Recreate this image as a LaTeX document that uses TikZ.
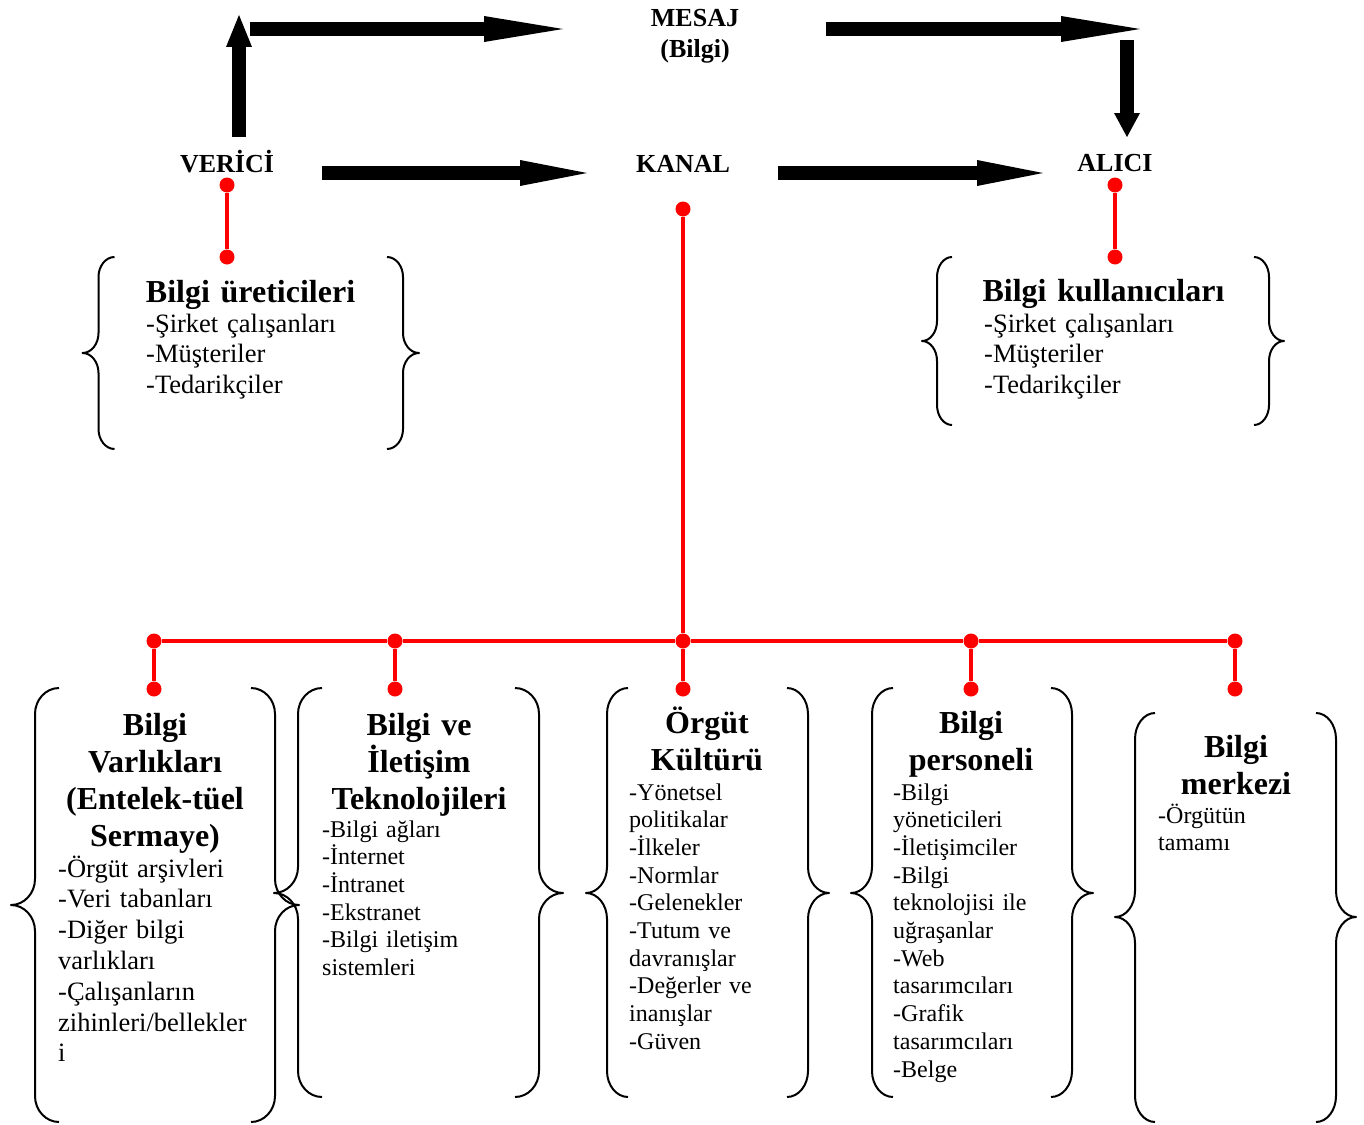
\documentclass[tikz,border=0pt]{standalone}
\usepackage{fontspec}
\setmainfont{Liberation Serif}
\usepackage{tikz}
\usetikzlibrary{arrows.meta,positioning}
\definecolor{KanalRed}{HTML}{FF0000}

\begin{document}
\begin{tikzpicture}[x=1pt,y=-1pt,
  lbl/.style={font=\fontsize{26}{31}\selectfont\bfseries,inner sep=0pt,anchor=base,align=center,text width=200pt},
  hdr/.style={font=\fontsize{32}{37}\selectfont\bfseries,inner sep=0pt,anchor=base,align=center,text width=280pt},
  items/.style={font=\fontsize{24}{27.7}\selectfont,inner sep=0pt,anchor=base west,align=left,text width=300pt},
  bigitems/.style={items,font=\fontsize{26.5}{30.8}\selectfont},
  reddot/.style={circle,fill=KanalRed,inner sep=0pt,minimum size=15pt},
  link/.style={KanalRed,line width=4pt},
  blockarrow/.style={line width=14pt,-{Triangle[length=#1,width=26pt,line width=0pt]}},
  bracket/.style={line width=2pt,line join=round}]
  \useasboundingbox (0,0) rectangle (1364,1124);
  % iletisim modeli
  \node[lbl] (mesaj) at (695,27) {MESAJ\\(Bilgi)};
  \node[lbl] (verici) at (227,172) {VERİCİ};
  \node[lbl] (kanal) at (683,172) {KANAL};
  \node[lbl] (alici) at (1115,171) {ALICI};
  \coordinate (vUp) at (239,137);   \coordinate (vTop) at (239,15);
  \coordinate (mL) at (250,29);     \coordinate (mR) at (563,29);
  \coordinate (mL2) at (826,29);    \coordinate (mR2) at (1140,29);
  \coordinate (aTop) at (1127,40);  \coordinate (aDown) at (1127,137);
  \coordinate (vR) at (322,173);    \coordinate (kL) at (587,173);
  \coordinate (kR) at (778,173);    \coordinate (aL) at (1043,173);
  \draw[blockarrow=32pt] (vUp) -- (vTop);
  \draw[blockarrow=79pt] (mL) -- (mR);
  \draw[blockarrow=79pt] (mL2) -- (mR2);
  \draw[blockarrow=24pt] (aTop) -- (aDown);
  \draw[blockarrow=67pt] (vR) -- (kL);
  \draw[blockarrow=66pt] (kR) -- (aL);
  % kirmizi baglantilar
  \node[reddot] (vd1) at (227,185) {};
  \node[reddot] (vd2) at (227,257) {};
  \node[reddot] (ad1) at (1115,185) {};
  \node[reddot] (ad2) at (1115,257) {};
  \node[reddot] (kd) at (683,209) {};
  \draw[link] (vd1) -- (vd2);
  \draw[link] (ad1) -- (ad2);
  \foreach \x [count=\i] in {154,395,683,971,1235} {
    \node[reddot] (j\i) at (\x,641) {};
    \node[reddot] (b\i) at (\x,689) {};
    \draw[link] (j\i) -- (b\i);
  }
  \draw[link] (kd) -- (j3);
  \foreach \i [remember=\i as \lasti (initially 1)] in {2,...,5} {\draw[link] (j\lasti) -- (j\i);}
  % parantezler
  \foreach \xl/\xr/\yt/\ym/\yb/\d/\c in {98.5/403/257/353/449/16/20, 937/1269/257/341/425/15/20,
      35/275/688/905/1122/24/26, 298/539/688/893/1097/24/26, 607/808/688/893/1097/21/26,
      872/1072/688/893/1097/21/26, 1135/1336/713/917/1122/20/26} {
    \draw[bracket] (\xl+\d,\yt) .. controls (\xl+0.45*\d,\yt) and (\xl,\yt+0.45*\c) .. (\xl,\yt+\c)
      -- (\xl,\ym-\c) .. controls (\xl,\ym-0.45*\c) and (\xl-0.45*\d,\ym) .. (\xl-\d,\ym)
      .. controls (\xl-0.45*\d,\ym) and (\xl,\ym+0.45*\c) .. (\xl,\ym+\c)
      -- (\xl,\yb-\c) .. controls (\xl,\yb-0.45*\c) and (\xl+0.45*\d,\yb) .. (\xl+\d,\yb);
    \draw[bracket] (\xr-\d,\yt) .. controls (\xr-0.45*\d,\yt) and (\xr,\yt+0.45*\c) .. (\xr,\yt+\c)
      -- (\xr,\ym-\c) .. controls (\xr,\ym-0.45*\c) and (\xr+0.45*\d,\ym) .. (\xr+\d,\ym)
      .. controls (\xr+0.45*\d,\ym) and (\xr,\ym+0.45*\c) .. (\xr,\ym+\c)
      -- (\xr,\yb-\c) .. controls (\xr,\yb-0.45*\c) and (\xr-0.45*\d,\yb) .. (\xr-\d,\yb);
  }
  % ust kutular
  \node[hdr] (uretici) at (250.5,302) {Bilgi üreticileri};
  \node[bigitems] (ureticiList) at (146,332) {-Şirket çalışanları\\-Müşteriler\\-Tedarikçiler};
  \node[hdr] (kullanici) at (1103.5,301) {Bilgi kullanıcıları};
  \node[bigitems] (kullaniciList) at (984,332) {-Şirket çalışanları\\-Müşteriler\\-Tedarikçiler};
  % alt kutular
  \node[hdr] (varlik) at (155,735) {Bilgi\\Varlıkları\\(Entelek-tüel\\Sermaye)};
  \node[bigitems] (varlikList) at (58,877) {-Örgüt arşivleri\\-Veri tabanları\\-Diğer bilgi\\varlıkları\\-Çalışanların\\zihinleri/bellekler\\i};
  \node[hdr] (teknoloji) at (419,735) {Bilgi ve\\İletişim\\Teknolojileri};
  \node[items] (teknolojiList) at (322,837) {-Bilgi ağları\\-İnternet\\-İntranet\\-Ekstranet\\-Bilgi iletişim\\sistemleri};
  \node[hdr] (kultur) at (707,733) {Örgüt\\Kültürü};
  \node[items] (kulturList) at (629,800) {-Yönetsel\\politikalar\\-İlkeler\\-Normlar\\-Gelenekler\\-Tutum ve\\davranışlar\\-Değerler ve\\inanışlar\\-Güven};
  \node[hdr] (personel) at (971,733) {Bilgi\\personeli};
  \node[items] (personelList) at (893,800) {-Bilgi\\yöneticileri\\-İletişimciler\\-Bilgi\\teknolojisi ile\\uğraşanlar\\-Web\\tasarımcıları\\-Grafik\\tasarımcıları\\-Belge};
  \node[hdr] (merkez) at (1236,757) {Bilgi\\merkezi};
  \node[items] (merkezList) at (1158,823) {-Örgütün\\tamamı};
\end{tikzpicture}
\end{document}
